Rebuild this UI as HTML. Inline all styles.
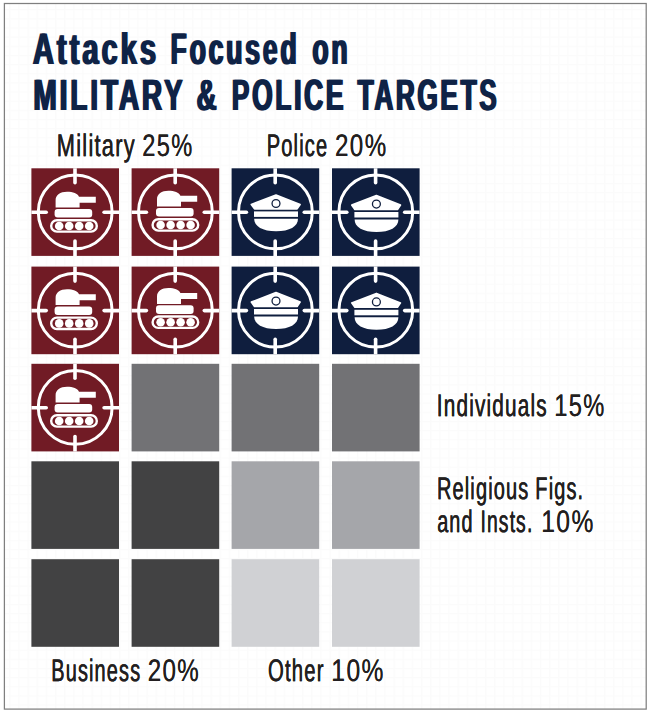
<!DOCTYPE html>
<html><head><meta charset="utf-8">
<style>
html,body{margin:0;padding:0;background:#fff;width:650px;height:713px;overflow:hidden}
svg{display:block}
text{font-family:"Liberation Sans",sans-serif;text-rendering:geometricPrecision}
.tt{fill:#0f2346;stroke:#0f2346;stroke-width:0px;font-weight:bold;letter-spacing:4.5px}
.lt{fill:#231f20;stroke:#231f20;stroke-width:0.25px;letter-spacing:1.8px}
.ln{stroke-width:0px}
</style>
</head>
<body>
<svg width="650" height="713" viewBox="0 0 650 713">
<defs>
  <clipPath id="tc"><rect x="0" y="0" width="87.6" height="87.6"/></clipPath>
  <pattern id="grid" x="0" y="0" width="9.15" height="9.15" patternUnits="userSpaceOnUse"><rect width="9.15" height="9.15" fill="#fff"/><path d="M0,0.5 H9.15 M0.5,0 V9.15" stroke="#fbfbfb" stroke-width="1.3"/></pattern>
  <g id="cross" clip-path="url(#tc)">
    <circle cx="43.8" cy="43.6" r="36.9" fill="none" stroke="#fff" stroke-width="3"/>
    <g stroke="#fff" stroke-width="3.6" stroke-linecap="round">
      <line x1="43.6" y1="-6" x2="43.6" y2="14.5"/>
      <line x1="43.6" y1="72.7" x2="43.6" y2="94"/>
      <line x1="-6" y1="44" x2="14.8" y2="44"/>
      <line x1="72.7" y1="44" x2="94" y2="44"/>
    </g>
  </g>
  <g id="tank">
    <rect x="0" y="0" width="87.6" height="87.6" fill="#711b25"/>
    <use href="#cross"/>
  </g>
  <g id="tankshape">
    <path d="M24.2,39.3 V32 C24.2,26.6 28.8,23.5 35.6,23.5 C41.6,23.5 46.2,25.3 47.6,28.5 H64.4 V34.5 H48.2 V39.3 Z" fill="#fff"/>
    <rect x="23.2" y="40.7" width="37.6" height="8.6" rx="3" fill="#fff"/>
    <rect x="19.8" y="51.9" width="45.6" height="11.4" rx="5.7" fill="none" stroke="#fff" stroke-width="2.4"/>
    <g fill="#fff">
      <circle cx="27.8" cy="57.7" r="4.3"/>
      <circle cx="37.8" cy="57.7" r="4.3"/>
      <circle cx="47.8" cy="57.7" r="4.3"/>
      <circle cx="57.8" cy="57.7" r="4.3"/>
    </g>
  </g>
  <g id="cop">
    <rect x="0" y="0" width="87.6" height="87.6" fill="#0f1e3e"/>
    <use href="#cross"/>
  </g>
  <g id="copshape">
    <path d="M19.7,36 L44.4,26.5 L68.5,36 L65.5,40.4 H22.9 Z" fill="#fff" stroke="#fff" stroke-width="1.6" stroke-linejoin="round"/>
    <circle cx="44.4" cy="35" r="3.95" fill="#fff" stroke="#0f1e3e" stroke-width="1.3"/>
    <rect x="22.4" y="42.9" width="44" height="5.5" fill="#fff"/>
    <path d="M22.6,50.3 H66.4 C66.4,58 58,62.8 44.5,62.8 C31,62.8 22.6,58 22.6,50.3 Z" fill="#fff"/>
  </g>
</defs>
<rect x="0" y="0" width="650" height="713" fill="#fff"/>
<rect x="4.4" y="3.5" width="641.8" height="705.6" fill="url(#grid)"/>
<rect class="shape" x="4.4" y="3.5" width="641.8" height="705.6" fill="none" stroke="#7f7f7f" stroke-width="1.25"/>

<g id="ttl"><text class="tt" x="32.10" y="64" font-size="44.2" textLength="126.06" lengthAdjust="spacingAndGlyphs">Attacks</text>
<text class="tt" x="169.66" y="64" font-size="44.2" textLength="128.83" lengthAdjust="spacingAndGlyphs">Focused</text>
<text class="tt" x="311.61" y="64" font-size="44.2" textLength="37.82" lengthAdjust="spacingAndGlyphs">on</text>
<text class="tt" x="32.50" y="110" font-size="43.9" textLength="152.25" lengthAdjust="spacingAndGlyphs">MILITARY</text>
<text class="tt" x="195.85" y="110" font-size="43.9" textLength="22.79" lengthAdjust="spacingAndGlyphs">&amp;</text>
<text class="tt" x="230.90" y="110" font-size="43.9" textLength="114.40" lengthAdjust="spacingAndGlyphs">POLICE</text>
<text class="tt" x="356.74" y="110" font-size="43.9" textLength="141.77" lengthAdjust="spacingAndGlyphs">TARGETS</text></g>
<use href="#ttl" x="1.7"/>
<g id="lbl"><text class="lt" x="56.81" y="156" font-size="31.2" textLength="79.03" lengthAdjust="spacingAndGlyphs">Military</text>
<text class="lt ln" x="142.31" y="156" font-size="31.2" textLength="51.40" lengthAdjust="spacingAndGlyphs">25%</text>
<text class="lt" x="266.72" y="156" font-size="31.2" textLength="61.58" lengthAdjust="spacingAndGlyphs">Police</text>
<text class="lt ln" x="334.99" y="156" font-size="31.2" textLength="52.56" lengthAdjust="spacingAndGlyphs">20%</text>
<text class="lt" x="436.77" y="416" font-size="31.2" textLength="111.17" lengthAdjust="spacingAndGlyphs">Individuals</text>
<text class="lt ln" x="554.16" y="416" font-size="31.2" textLength="51.49" lengthAdjust="spacingAndGlyphs">15%</text>
<text class="lt" x="436.94" y="499" font-size="31.2" textLength="92.51" lengthAdjust="spacingAndGlyphs">Religious</text>
<text class="lt" x="535.32" y="499" font-size="31.2" textLength="48.99" lengthAdjust="spacingAndGlyphs">Figs.</text>
<text class="lt" x="437.16" y="532" font-size="31.2" textLength="36.55" lengthAdjust="spacingAndGlyphs">and</text>
<text class="lt" x="480.56" y="532" font-size="31.2" textLength="52.80" lengthAdjust="spacingAndGlyphs">Insts.</text>
<text class="lt ln" x="541.27" y="532" font-size="31.2" textLength="53.50" lengthAdjust="spacingAndGlyphs">10%</text>
<text class="lt" x="51.25" y="681" font-size="31.2" textLength="90.07" lengthAdjust="spacingAndGlyphs">Business</text>
<text class="lt ln" x="147.70" y="681" font-size="31.2" textLength="52.43" lengthAdjust="spacingAndGlyphs">20%</text>
<text class="lt" x="268.11" y="681" font-size="31.2" textLength="56.54" lengthAdjust="spacingAndGlyphs">Other</text>
<text class="lt ln" x="331.31" y="681" font-size="31.2" textLength="53.54" lengthAdjust="spacingAndGlyphs">10%</text></g>
<use href="#lbl" x="0.0"/>
<g class="shape">
<use href="#tank" x="31.4" y="168.3"/><use href="#tankshape" x="31.4" y="168.3"/>
<use href="#tank" x="131.6" y="168.3"/><use href="#tankshape" x="132.8" y="167.3"/>
<use href="#cop" x="231.6" y="168.3"/><use href="#copshape" x="231.6" y="168.5"/>
<use href="#cop" x="332" y="168.3"/><use href="#copshape" x="332" y="169.1"/>
<use href="#tank" x="31.4" y="266.6"/><use href="#tankshape" x="31.4" y="265.7"/>
<use href="#tank" x="131.6" y="266.6"/><use href="#tankshape" x="132.8" y="264.6"/>
<use href="#cop" x="231.6" y="266.6"/><use href="#copshape" x="231.6" y="266.1"/>
<use href="#cop" x="332" y="266.6"/><use href="#copshape" x="332" y="266.9"/>
<use href="#tank" x="31.4" y="363.8"/><use href="#tankshape" x="31.4" y="363.3"/>
<rect x="131.6" y="363.8" width="87.6" height="87.6" fill="#727275"/>
<rect x="231.6" y="363.8" width="87.6" height="87.6" fill="#727275"/>
<rect x="332" y="363.8" width="87.6" height="87.6" fill="#727275"/>
<rect x="31.4" y="461.3" width="87.6" height="87.6" fill="#424243"/>
<rect x="131.6" y="461.3" width="87.6" height="87.6" fill="#424243"/>
<rect x="231.6" y="461.3" width="87.6" height="87.6" fill="#a5a6aa"/>
<rect x="332" y="461.3" width="87.6" height="87.6" fill="#a5a6aa"/>
<rect x="31.4" y="559.2" width="87.6" height="87.6" fill="#424243"/>
<rect x="131.6" y="559.2" width="87.6" height="87.6" fill="#424243"/>
<rect x="231.6" y="559.2" width="87.6" height="87.6" fill="#d0d1d4"/>
<rect x="332" y="559.2" width="87.6" height="87.6" fill="#d0d1d4"/>
</g>
</svg>
</body></html>
